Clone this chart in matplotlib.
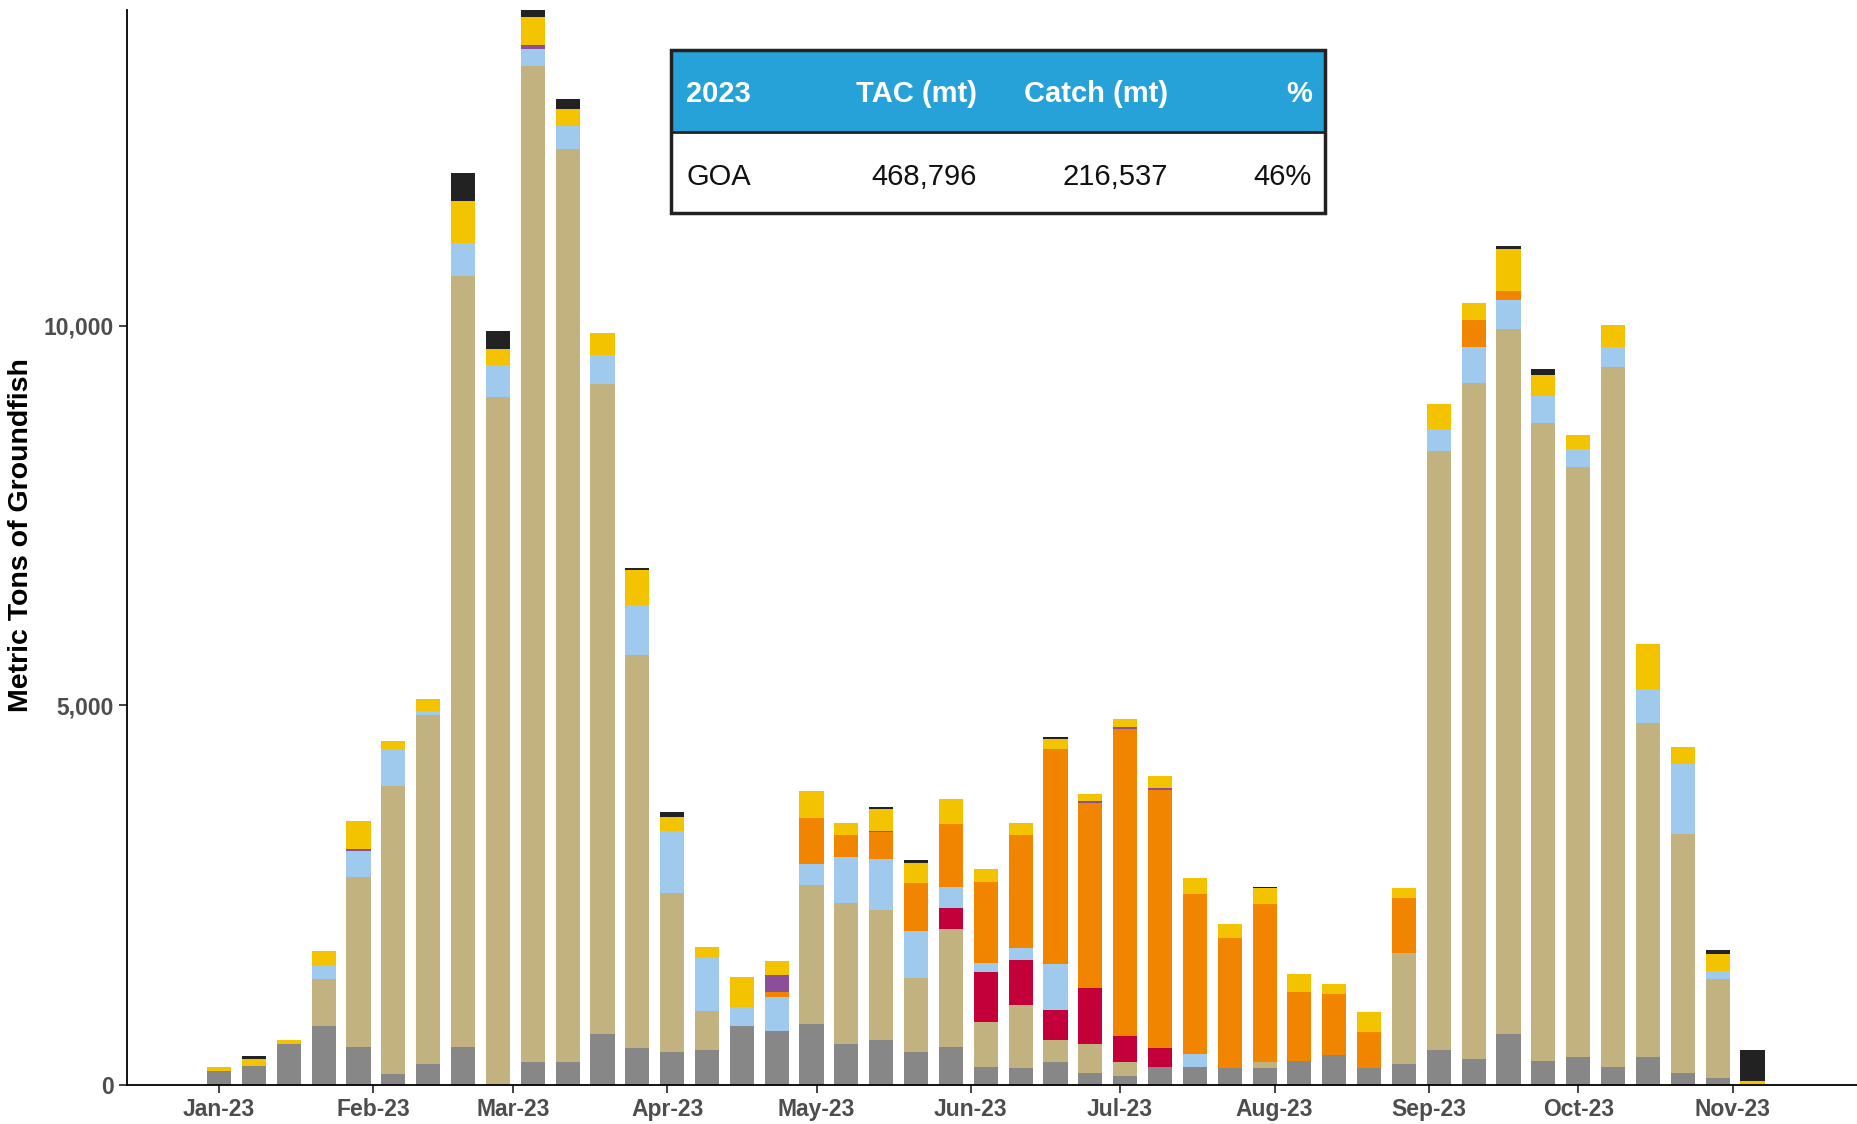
import matplotlib
matplotlib.use("Agg")
from matplotlib import pyplot as plt
import matplotlib.dates as mdates
from matplotlib.patches import Rectangle
import numpy as np
import pandas as pd

plt.rcParams['font.family'] = ['Liberation Sans', 'DejaVu Sans']

# weekly catch, metric tons, by species group (bottom to top of each stack)
weeks = pd.date_range('2023-01-01', periods=45, freq='7D')

gray = [190, 255, 535, 776, 504, 140, 272, 504, 0, 298, 298, 667, 482, 430, 461,
        776, 715, 798, 535, 592, 430, 504, 241, 228, 298, 162, 118, 241, 241, 219,
        219, 316, 395, 219, 272, 461, 342, 667, 316, 373, 241, 373, 162, 88, 0]
tan = [0, 0, 0, 623, 2237, 3803, 4601, 10142, 9058, 13125, 12020, 8558, 5185, 2101, 517,
       0, 0, 1838, 1864, 1711, 974, 1549, 584, 825, 294, 373, 180, 0, 0, 0,
       79, 0, 0, 0, 1469, 7886, 8905, 9282, 8401, 7764, 9212, 4395, 3149, 1307, 0]
crimson = [0, 0, 0, 0, 0, 0, 0, 0, 0, 0, 0, 0, 0, 0, 0,
           0, 0, 0, 0, 0, 0, 272, 657, 592, 395, 737, 347, 241, 0, 0,
           0, 0, 0, 0, 0, 0, 0, 0, 0, 0, 0, 0, 0, 0, 0]
light_blue = [0, 0, 0, 180, 342, 478, 48, 439, 417, 219, 315, 382, 658, 816, 711,
              255, 447, 272, 605, 679, 627, 285, 128, 153, 601, 0, 0, 0, 163, 0,
              0, 0, 0, 0, 0, 294, 469, 382, 351, 233, 263, 443, 921, 109, 0]
orange = [0, 0, 0, 0, 0, 0, 0, 0, 0, 0, 0, 0, 0, 0, 0,
          0, 57, 601, 294, 343, 631, 820, 1057, 1500, 2842, 2443, 4048, 3400, 2105, 1711,
          2079, 903, 798, 474, 715, 0, 351, 123, 0, 0, 0, 0, 0, 0, 0]
purple = [0, 0, 0, 0, 30, 0, 0, 0, 0, 53, 0, 0, 0, 0, 0,
          0, 233, 0, 0, 21, 0, 0, 0, 0, 0, 26, 22, 22, 0, 0,
          0, 0, 0, 0, 0, 0, 0, 0, 0, 0, 0, 0, 0, 0, 0]
yellow = [50, 90, 57, 189, 364, 114, 162, 552, 219, 365, 220, 298, 452, 184, 131,
          394, 184, 364, 154, 286, 263, 342, 175, 154, 131, 84, 110, 162, 210, 184,
          211, 237, 136, 263, 132, 321, 233, 548, 285, 193, 295, 592, 220, 215, 55]
black = [0, 35, 0, 0, 0, 0, 0, 369, 233, 109, 127, 0, 25, 57, 0,
         0, 0, 0, 0, 30, 31, 0, 0, 0, 22, 0, 0, 0, 0, 0,
         22, 0, 0, 0, 0, 0, 0, 39, 79, 0, 0, 0, 0, 57, 400]

layers = [gray, tan, crimson, light_blue, orange, purple, yellow, black]
colors = ['#878787', '#C2B280', '#C4003A', '#A0C9EE', '#F28500', '#8B4F9A', '#F4C300', '#222222']

table_cols = ['2023', 'TAC (mt)', 'Catch (mt)', '%']
table_row = ['GOA', '468,796', '216,537', '46%']

fig = plt.figure(figsize=(18.57, 11.24), dpi=100)
ax = fig.add_axes([0.0684, 0.0347, 0.9316, 0.9568])

bottom = np.zeros(len(weeks))
for vals, c in zip(layers, colors):
    ax.bar(weeks, vals, width=4.85, bottom=bottom, color=c, linewidth=0)
    bottom += np.array(vals)

ax.set_xlim(pd.Timestamp('2022-12-13 12:00'), pd.Timestamp('2023-11-26'))
ax.set_ylim(0, 14160)
ax.set_yticks([0, 5000, 10000])
ax.yaxis.set_major_formatter(matplotlib.ticker.FuncFormatter(lambda v, p: f'{int(v):,}'))
ax.xaxis.set_major_locator(mdates.MonthLocator())
ax.xaxis.set_major_formatter(mdates.DateFormatter('%b-%y'))
ax.tick_params(axis='both', labelsize=16.5, labelcolor='#4d4d4d', length=6, width=1.3, color='#333333')
for lab in ax.get_xticklabels() + ax.get_yticklabels():
    lab.set_fontweight('bold')
ax.set_ylabel('Metric Tons of Groundfish', fontsize=20.5, fontweight='bold')
ax.yaxis.set_label_coords(-0.0535, 0.511)
for s in ['top', 'right']:
    ax.spines[s].set_visible(False)
ax.spines['left'].set_linewidth(1.3)
ax.spines['bottom'].set_linewidth(1.3)

# summary table
tab = fig.add_axes([671 / 1857, 1 - 213 / 1124, 654 / 1857, 163 / 1124])
tab.set_xlim(0, 1)
tab.set_ylim(0, 1)
tab.axis('off')
tab.add_patch(Rectangle((0, 0.5), 1, 0.5, facecolor='#26A2D9', edgecolor='none'))
tab.add_patch(Rectangle((0, 0), 1, 1, facecolor='none', edgecolor='#222222', linewidth=2.5, clip_on=False))
tab.plot([0, 1], [0.5, 0.5], color='#222222', linewidth=2)
xs = [0.023, 0.468, 0.760, 0.980]
aligns = ['left', 'right', 'right', 'right']
for x, h, t in zip(xs, aligns, table_cols):
    tab.text(x, 0.73, t, ha=h, va='center', color='white', fontsize=21, fontweight='bold')
for x, h, t in zip(xs, aligns, table_row):
    tab.text(x, 0.22, t, ha=h, va='center', color='#111111', fontsize=21)

fig.savefig('out.png', dpi=100)
